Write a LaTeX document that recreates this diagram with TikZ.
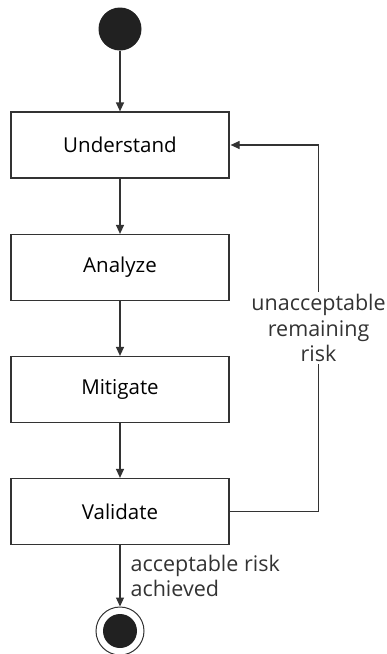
\documentclass[tikz,border=0pt]{standalone}
\usepackage{fontspec}
\setmainfont{Open Sans}
\usetikzlibrary{positioning,arrows.meta}

\definecolor{inkgray}{HTML}{333333}
\tikzset{x=1pt, y=-1pt}
\tikzset{
  stage/.style={draw=inkgray, line width=1.2pt, minimum width=218pt, minimum height=66pt, font=\fontsize{20.5}{24}\selectfont},
  flow/.style={draw=inkgray, line width=1.2pt, -{Triangle[length=9pt,width=8pt]}},
  note/.style={font=\fontsize{21.5}{25.5}\selectfont, text=inkgray, inner sep=2pt}
}

\begin{document}
\begin{tikzpicture}
\useasboundingbox (0,0) rectangle (386,654);
% start and end states
\node[circle, fill=black!87, minimum size=43pt, inner sep=0pt] (start) at (120,29) {};
\node[circle, draw=inkgray, line width=1pt, minimum size=48pt, inner sep=0pt] (finish) at (120,631) {};
\node[circle, fill=black!87, minimum size=34pt, inner sep=0pt] (finishdot) at (finish.center) {};
% the four stages, edit here for the spacing
\foreach \name/\txt/\y in {understand/Understand/145, analyze/Analyze/267.5,
  mitigate/Mitigate/389.5, validate/Validate/511.5}
  \node[stage] (\name) at (120,\y) {\txt};
\draw[flow] (start) -- (understand);
\draw[flow] (understand) -- (analyze);
\draw[flow] (analyze) -- (mitigate);
\draw[flow] (mitigate) -- (validate);
\draw[flow] (validate) -- (finish)
  node[note, midway, right, align=left, xshift=8pt] {acceptable risk\\achieved};
\draw[flow] (validate.east) -- ++(89,0) |- ([xshift=1pt]understand.east)
  node[note, pos=0.25, fill=white, align=center] {unacceptable\\remaining\\risk};
\end{tikzpicture}
\end{document}
